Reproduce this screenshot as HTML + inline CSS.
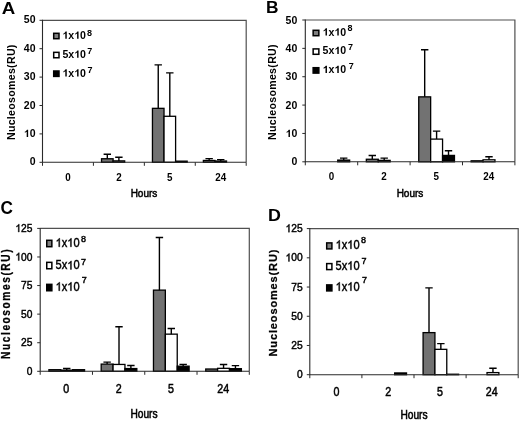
<!DOCTYPE html>
<html><head><meta charset="utf-8"><style>
html,body{margin:0;padding:0;background:#fff;}
svg{display:block;filter:blur(0.35px);}
text{font-family:"Liberation Sans", sans-serif;fill:#000;}
</style></head><body>
<svg width="520" height="421" viewBox="0 0 520 421">
<rect width="520" height="421" fill="#fff"/>
<path d="M42.5 20.3H246.2V162.3" fill="none" stroke="#505050" stroke-width="1.2"/>
<rect x="101.53" y="158.75" width="11.57" height="3.55" fill="#727272" stroke="#000" stroke-width="1.3"/>
<path d="M107.31 158.75V154.21M103.61 154.21H111.01" stroke="#000" stroke-width="1.4" fill="none"/>
<rect x="113.1" y="160.88" width="11.57" height="1.42" fill="#ffffff" stroke="#000" stroke-width="1.3"/>
<path d="M118.89 160.88V157.19M115.19 157.19H122.59" stroke="#000" stroke-width="1.4" fill="none"/>
<rect x="152.45" y="108.34" width="11.57" height="53.96" fill="#727272" stroke="#000" stroke-width="1.3"/>
<path d="M158.24 108.34V64.89M154.54 64.89H161.94" stroke="#000" stroke-width="1.4" fill="none"/>
<rect x="164.03" y="116.29" width="11.57" height="46.01" fill="#ffffff" stroke="#000" stroke-width="1.3"/>
<path d="M169.81 116.29V72.84M166.11 72.84H173.51" stroke="#000" stroke-width="1.4" fill="none"/>
<rect x="175.6" y="161.16" width="11.57" height="1.14" fill="#000000" stroke="#000" stroke-width="1.3"/>
<rect x="203.38" y="160.45" width="11.57" height="1.85" fill="#727272" stroke="#000" stroke-width="1.3"/>
<path d="M209.16 160.45V158.61M205.46 158.61H212.86" stroke="#000" stroke-width="1.4" fill="none"/>
<rect x="214.95" y="161.02" width="11.57" height="1.28" fill="#ffffff" stroke="#000" stroke-width="1.3"/>
<path d="M220.74 161.02V159.6M217.04 159.6H224.44" stroke="#000" stroke-width="1.4" fill="none"/>
<path d="M42.5 19.8V162.3H246.2" fill="none" stroke="#2a2a2a" stroke-width="1.1"/>
<path d="M39.5 162.3H42.5" stroke="#2a2a2a" stroke-width="1"/>
<path d="M39.5 133.9H42.5" stroke="#2a2a2a" stroke-width="1"/>
<path d="M39.5 105.5H42.5" stroke="#2a2a2a" stroke-width="1"/>
<path d="M39.5 77.1H42.5" stroke="#2a2a2a" stroke-width="1"/>
<path d="M39.5 48.7H42.5" stroke="#2a2a2a" stroke-width="1"/>
<path d="M39.5 20.3H42.5" stroke="#2a2a2a" stroke-width="1"/>
<path d="M42.5 162.3V165.8" stroke="#2a2a2a" stroke-width="1"/>
<path d="M93.42 162.3V165.8" stroke="#2a2a2a" stroke-width="1"/>
<path d="M144.35 162.3V165.8" stroke="#2a2a2a" stroke-width="1"/>
<path d="M195.27 162.3V165.8" stroke="#2a2a2a" stroke-width="1"/>
<path d="M246.2 162.3V165.8" stroke="#2a2a2a" stroke-width="1"/>
<text transform="translate(29.66 165.4)" font-size="10.5" font-weight="bold">0</text>
<path transform="translate(23.82 137) scale(0.00513 -0.00513)" d="M842 0H561V1013.7Q407 875.8 198 809.8V1053.9Q308 1088.3 437 1184.1Q566 1280.7 614 1409H842Z"/><text transform="translate(29.66 137)" font-size="10.5" font-weight="bold">0</text>
<text transform="translate(23.82 108.6)" font-size="10.5" font-weight="bold">20</text>
<text transform="translate(23.82 80.2)" font-size="10.5" font-weight="bold">30</text>
<text transform="translate(23.82 51.8)" font-size="10.5" font-weight="bold">40</text>
<text transform="translate(23.82 23.4)" font-size="10.5" font-weight="bold">50</text>
<text transform="translate(67.96 181.4) scale(0.91 1)" font-size="10.8" font-weight="bold" text-anchor="middle">0</text>
<text transform="translate(118.89 181.4) scale(0.91 1)" font-size="10.8" font-weight="bold" text-anchor="middle">2</text>
<text transform="translate(169.81 181.4) scale(0.91 1)" font-size="10.8" font-weight="bold" text-anchor="middle">5</text>
<text transform="translate(220.74 181.4) scale(0.91 1)" font-size="10.8" font-weight="bold" text-anchor="middle">24</text>
<text transform="translate(144 197.3) scale(0.93 1)" font-size="10.8" text-anchor="middle" stroke="#000" stroke-width="0.5">Hours</text>
<text transform="translate(15 92.2) rotate(-90)" font-size="10.6" font-weight="bold" text-anchor="middle" letter-spacing="0.3">Nucleosomes(RU)</text>
<text transform="translate(1.7 14.4) scale(1.1 1)" font-size="17" font-weight="bold">A</text>
<rect x="53.7" y="33.3" width="5.3" height="5.4" fill="#808080" stroke="#000" stroke-width="1.5"/>
<path transform="translate(62.4 38.85) scale(0.00518 -0.00518)" d="M842 0H561V1013.7Q407 875.8 198 809.8V1053.9Q308 1088.3 437 1184.1Q566 1280.7 614 1409H842Z"/><text transform="translate(68.3 38.85)" font-size="10.6" font-weight="bold">x</text><path transform="translate(74.19 38.85) scale(0.00518 -0.00518)" d="M842 0H561V1013.7Q407 875.8 198 809.8V1053.9Q308 1088.3 437 1184.1Q566 1280.7 614 1409H842Z"/><text transform="translate(80.09 38.85)" font-size="10.6" font-weight="bold">0</text>
<text transform="translate(87 35.8)" font-size="9.0" font-weight="bold">8</text>
<rect x="53.7" y="52.35" width="5.3" height="5.4" fill="#ffffff" stroke="#000" stroke-width="1.5"/>
<text transform="translate(62.4 57.85)" font-size="10.6" font-weight="bold">5x</text><path transform="translate(74.19 57.85) scale(0.00518 -0.00518)" d="M842 0H561V1013.7Q407 875.8 198 809.8V1053.9Q308 1088.3 437 1184.1Q566 1280.7 614 1409H842Z"/><text transform="translate(80.09 57.85)" font-size="10.6" font-weight="bold">0</text>
<text transform="translate(87.2 54.3)" font-size="9.0" font-weight="bold">7</text>
<rect x="53.7" y="71" width="5.3" height="5.4" fill="#000000" stroke="#000" stroke-width="1.5"/>
<path transform="translate(62.4 76.6) scale(0.00518 -0.00518)" d="M842 0H561V1013.7Q407 875.8 198 809.8V1053.9Q308 1088.3 437 1184.1Q566 1280.7 614 1409H842Z"/><text transform="translate(68.3 76.6)" font-size="10.6" font-weight="bold">x</text><path transform="translate(74.19 76.6) scale(0.00518 -0.00518)" d="M842 0H561V1013.7Q407 875.8 198 809.8V1053.9Q308 1088.3 437 1184.1Q566 1280.7 614 1409H842Z"/><text transform="translate(80.09 76.6)" font-size="10.6" font-weight="bold">0</text>
<text transform="translate(87.5 72.5)" font-size="9.0" font-weight="bold">7</text>
<path d="M305.3 20H514.9V161.8" fill="none" stroke="#505050" stroke-width="1.2"/>
<rect x="337.75" y="160.1" width="11.91" height="1.7" fill="#000000" stroke="#000" stroke-width="1.3"/>
<path d="M343.71 160.1V158.11M340.01 158.11H347.41" stroke="#000" stroke-width="1.4" fill="none"/>
<rect x="366.34" y="159.25" width="11.91" height="2.55" fill="#727272" stroke="#000" stroke-width="1.3"/>
<path d="M372.29 159.25V155.56M368.59 155.56H375.99" stroke="#000" stroke-width="1.4" fill="none"/>
<rect x="378.25" y="160.38" width="11.91" height="1.42" fill="#ffffff" stroke="#000" stroke-width="1.3"/>
<path d="M384.2 160.38V158.11M380.5 158.11H387.9" stroke="#000" stroke-width="1.4" fill="none"/>
<rect x="418.74" y="96.86" width="11.91" height="64.94" fill="#727272" stroke="#000" stroke-width="1.3"/>
<path d="M424.69 96.86V49.78M420.99 49.78H428.39" stroke="#000" stroke-width="1.4" fill="none"/>
<rect x="430.65" y="139.11" width="11.91" height="22.69" fill="#ffffff" stroke="#000" stroke-width="1.3"/>
<path d="M436.6 139.11V131.17M432.9 131.17H440.3" stroke="#000" stroke-width="1.4" fill="none"/>
<rect x="442.55" y="155.42" width="11.91" height="6.38" fill="#000000" stroke="#000" stroke-width="1.3"/>
<path d="M448.51 155.42V150.74M444.81 150.74H452.21" stroke="#000" stroke-width="1.4" fill="none"/>
<rect x="471.14" y="160.81" width="11.91" height="0.99" fill="#727272" stroke="#000" stroke-width="1.3"/>
<rect x="483.05" y="159.81" width="11.91" height="1.99" fill="#ffffff" stroke="#000" stroke-width="1.3"/>
<path d="M489 159.81V156.7M485.3 156.7H492.7" stroke="#000" stroke-width="1.4" fill="none"/>
<path d="M305.3 19.5V161.8H514.9" fill="none" stroke="#2a2a2a" stroke-width="1.1"/>
<path d="M302.3 161.8H305.3" stroke="#2a2a2a" stroke-width="1"/>
<path d="M302.3 133.44H305.3" stroke="#2a2a2a" stroke-width="1"/>
<path d="M302.3 105.08H305.3" stroke="#2a2a2a" stroke-width="1"/>
<path d="M302.3 76.72H305.3" stroke="#2a2a2a" stroke-width="1"/>
<path d="M302.3 48.36H305.3" stroke="#2a2a2a" stroke-width="1"/>
<path d="M302.3 20H305.3" stroke="#2a2a2a" stroke-width="1"/>
<path d="M305.3 161.8V165.3" stroke="#2a2a2a" stroke-width="1"/>
<path d="M357.7 161.8V165.3" stroke="#2a2a2a" stroke-width="1"/>
<path d="M410.1 161.8V165.3" stroke="#2a2a2a" stroke-width="1"/>
<path d="M462.5 161.8V165.3" stroke="#2a2a2a" stroke-width="1"/>
<path d="M514.9 161.8V165.3" stroke="#2a2a2a" stroke-width="1"/>
<text transform="translate(291.46 165.4)" font-size="10.5" font-weight="bold">0</text>
<path transform="translate(285.62 137.04) scale(0.00513 -0.00513)" d="M842 0H561V1013.7Q407 875.8 198 809.8V1053.9Q308 1088.3 437 1184.1Q566 1280.7 614 1409H842Z"/><text transform="translate(291.46 137.04)" font-size="10.5" font-weight="bold">0</text>
<text transform="translate(285.62 108.68)" font-size="10.5" font-weight="bold">20</text>
<text transform="translate(285.62 80.32)" font-size="10.5" font-weight="bold">30</text>
<text transform="translate(285.62 51.96)" font-size="10.5" font-weight="bold">40</text>
<text transform="translate(285.62 23.6)" font-size="10.5" font-weight="bold">50</text>
<text transform="translate(331.5 180.4) scale(0.91 1)" font-size="10.8" font-weight="bold" text-anchor="middle">0</text>
<text transform="translate(383.9 180.4) scale(0.91 1)" font-size="10.8" font-weight="bold" text-anchor="middle">2</text>
<text transform="translate(436.3 180.4) scale(0.91 1)" font-size="10.8" font-weight="bold" text-anchor="middle">5</text>
<text transform="translate(488.7 180.4) scale(0.91 1)" font-size="10.8" font-weight="bold" text-anchor="middle">24</text>
<text transform="translate(410 197.2) scale(0.93 1)" font-size="10.8" text-anchor="middle" stroke="#000" stroke-width="0.5">Hours</text>
<text transform="translate(276 92) rotate(-90)" font-size="10.6" font-weight="bold" text-anchor="middle" letter-spacing="0.3">Nucleosomes(RU)</text>
<text transform="translate(265.9 12.9) scale(1.05 1)" font-size="16.5" font-weight="bold">B</text>
<rect x="313.15" y="30.3" width="5.7" height="5.4" fill="#808080" stroke="#000" stroke-width="1.5"/>
<path transform="translate(322.6 35.6) scale(0.00518 -0.00518)" d="M842 0H561V1013.7Q407 875.8 198 809.8V1053.9Q308 1088.3 437 1184.1Q566 1280.7 614 1409H842Z"/><text transform="translate(328.5 35.6)" font-size="10.6" font-weight="bold">x</text><path transform="translate(334.39 35.6) scale(0.00518 -0.00518)" d="M842 0H561V1013.7Q407 875.8 198 809.8V1053.9Q308 1088.3 437 1184.1Q566 1280.7 614 1409H842Z"/><text transform="translate(340.29 35.6)" font-size="10.6" font-weight="bold">0</text>
<text transform="translate(347.6 30.6)" font-size="9.0" font-weight="bold">8</text>
<rect x="313.15" y="48.9" width="5.7" height="5.4" fill="#ffffff" stroke="#000" stroke-width="1.5"/>
<text transform="translate(322.6 54.1)" font-size="10.6" font-weight="bold">5x</text><path transform="translate(334.39 54.1) scale(0.00518 -0.00518)" d="M842 0H561V1013.7Q407 875.8 198 809.8V1053.9Q308 1088.3 437 1184.1Q566 1280.7 614 1409H842Z"/><text transform="translate(340.29 54.1)" font-size="10.6" font-weight="bold">0</text>
<text transform="translate(347.9 50.3)" font-size="9.0" font-weight="bold">7</text>
<rect x="313.15" y="67.7" width="5.7" height="5.4" fill="#000000" stroke="#000" stroke-width="1.5"/>
<path transform="translate(322.6 73) scale(0.00518 -0.00518)" d="M842 0H561V1013.7Q407 875.8 198 809.8V1053.9Q308 1088.3 437 1184.1Q566 1280.7 614 1409H842Z"/><text transform="translate(328.5 73)" font-size="10.6" font-weight="bold">x</text><path transform="translate(334.39 73) scale(0.00518 -0.00518)" d="M842 0H561V1013.7Q407 875.8 198 809.8V1053.9Q308 1088.3 437 1184.1Q566 1280.7 614 1409H842Z"/><text transform="translate(340.29 73)" font-size="10.6" font-weight="bold">0</text>
<text transform="translate(348.8 68.8)" font-size="9.0" font-weight="bold">7</text>
<path d="M40.2 228.4H249.3V371.3" fill="none" stroke="#505050" stroke-width="1.2"/>
<rect x="48.92" y="369.7" width="11.88" height="1.6" fill="#727272" stroke="#000" stroke-width="1.3"/>
<rect x="60.8" y="370.16" width="11.88" height="1.14" fill="#ffffff" stroke="#000" stroke-width="1.3"/>
<path d="M66.74 370.16V368.44M63.04 368.44H70.44" stroke="#000" stroke-width="1.4" fill="none"/>
<rect x="72.68" y="369.7" width="11.88" height="1.6" fill="#000000" stroke="#000" stroke-width="1.3"/>
<rect x="101.19" y="364.1" width="11.88" height="7.2" fill="#727272" stroke="#000" stroke-width="1.3"/>
<path d="M107.13 364.1V362.15M103.43 362.15H110.83" stroke="#000" stroke-width="1.4" fill="none"/>
<rect x="113.07" y="364.44" width="11.88" height="6.86" fill="#ffffff" stroke="#000" stroke-width="1.3"/>
<path d="M119.01 364.44V326.72M115.31 326.72H122.71" stroke="#000" stroke-width="1.4" fill="none"/>
<rect x="124.95" y="368.56" width="11.88" height="2.74" fill="#000000" stroke="#000" stroke-width="1.3"/>
<path d="M130.89 368.56V365.47M127.19 365.47H134.59" stroke="#000" stroke-width="1.4" fill="none"/>
<rect x="153.47" y="290.13" width="11.88" height="81.17" fill="#727272" stroke="#000" stroke-width="1.3"/>
<path d="M159.41 290.13V237.55M155.71 237.55H163.11" stroke="#000" stroke-width="1.4" fill="none"/>
<rect x="165.35" y="334.15" width="11.88" height="37.15" fill="#ffffff" stroke="#000" stroke-width="1.3"/>
<path d="M171.29 334.15V328.43M167.59 328.43H174.99" stroke="#000" stroke-width="1.4" fill="none"/>
<rect x="177.23" y="366.16" width="11.88" height="5.14" fill="#000000" stroke="#000" stroke-width="1.3"/>
<path d="M183.17 366.16V364.33M179.47 364.33H186.87" stroke="#000" stroke-width="1.4" fill="none"/>
<rect x="205.74" y="369.01" width="11.88" height="2.29" fill="#727272" stroke="#000" stroke-width="1.3"/>
<rect x="217.62" y="368.33" width="11.88" height="2.97" fill="#ffffff" stroke="#000" stroke-width="1.3"/>
<path d="M223.56 368.33V364.44M219.86 364.44H227.26" stroke="#000" stroke-width="1.4" fill="none"/>
<rect x="229.5" y="368.67" width="11.88" height="2.63" fill="#000000" stroke="#000" stroke-width="1.3"/>
<path d="M235.44 368.67V365.58M231.74 365.58H239.14" stroke="#000" stroke-width="1.4" fill="none"/>
<path d="M40.2 227.9V371.3H249.3" fill="none" stroke="#2a2a2a" stroke-width="1.1"/>
<path d="M37.2 371.3H40.2" stroke="#2a2a2a" stroke-width="1"/>
<path d="M37.2 342.72H40.2" stroke="#2a2a2a" stroke-width="1"/>
<path d="M37.2 314.14H40.2" stroke="#2a2a2a" stroke-width="1"/>
<path d="M37.2 285.56H40.2" stroke="#2a2a2a" stroke-width="1"/>
<path d="M37.2 256.98H40.2" stroke="#2a2a2a" stroke-width="1"/>
<path d="M37.2 228.4H40.2" stroke="#2a2a2a" stroke-width="1"/>
<path d="M40.2 371.3V374.8" stroke="#2a2a2a" stroke-width="1"/>
<path d="M92.48 371.3V374.8" stroke="#2a2a2a" stroke-width="1"/>
<path d="M144.75 371.3V374.8" stroke="#2a2a2a" stroke-width="1"/>
<path d="M197.03 371.3V374.8" stroke="#2a2a2a" stroke-width="1"/>
<path d="M249.3 371.3V374.8" stroke="#2a2a2a" stroke-width="1"/>
<text transform="translate(26.79 374.9) scale(0.9 1)" font-size="11.4" stroke="#000" stroke-width="0.45">0</text>
<text transform="translate(21.09 346.32) scale(0.9 1)" font-size="11.4" stroke="#000" stroke-width="0.45">25</text>
<text transform="translate(21.09 317.74) scale(0.9 1)" font-size="11.4" stroke="#000" stroke-width="0.45">50</text>
<text transform="translate(21.09 289.16) scale(0.9 1)" font-size="11.4" stroke="#000" stroke-width="0.45">75</text>
<path transform="translate(15.38 260.58) scale(0.00501 -0.00557)" d="M763 0H583V1097.9Q518 1038.6 412.5 979.2Q307 919.9 223 890.2V1056.8Q374 1124.7 487 1221.4Q600 1318.1 647 1409H763Z" stroke="#000" stroke-width="0.45" vector-effect="non-scaling-stroke"/><text transform="translate(21.09 260.58) scale(0.9 1)" font-size="11.4" stroke="#000" stroke-width="0.45">00</text>
<path transform="translate(15.38 232) scale(0.00501 -0.00557)" d="M763 0H583V1097.9Q518 1038.6 412.5 979.2Q307 919.9 223 890.2V1056.8Q374 1124.7 487 1221.4Q600 1318.1 647 1409H763Z" stroke="#000" stroke-width="0.45" vector-effect="non-scaling-stroke"/><text transform="translate(21.09 232) scale(0.9 1)" font-size="11.4" stroke="#000" stroke-width="0.45">25</text>
<text transform="translate(66.34 393.3) scale(0.85 1)" font-size="12.6" text-anchor="middle" stroke="#000" stroke-width="0.5">0</text>
<text transform="translate(118.61 393.3) scale(0.85 1)" font-size="12.6" text-anchor="middle" stroke="#000" stroke-width="0.5">2</text>
<text transform="translate(170.89 393.3) scale(0.85 1)" font-size="12.6" text-anchor="middle" stroke="#000" stroke-width="0.5">5</text>
<text transform="translate(223.16 393.3) scale(0.85 1)" font-size="12.6" text-anchor="middle" stroke="#000" stroke-width="0.5">24</text>
<text transform="translate(144 418) scale(0.85 1)" font-size="12" text-anchor="middle" stroke="#000" stroke-width="0.55">Hours</text>
<text transform="translate(10 303.4) rotate(-90) scale(0.85 1)" font-size="12.0" font-weight="bold" text-anchor="middle" letter-spacing="1.82" stroke="#000" stroke-width="0.25">Nucleosomes(RU)</text>
<text transform="translate(0.5 214.1) scale(0.98 1)" font-size="17.6" font-weight="bold">C</text>
<rect x="46.75" y="240.3" width="5.1" height="6.4" fill="#808080" stroke="#000" stroke-width="1.5"/>
<path transform="translate(55.6 246.8) scale(0.00541 -0.00601)" d="M763 0H583V1097.9Q518 1038.6 412.5 979.2Q307 919.9 223 890.2V1056.8Q374 1124.7 487 1221.4Q600 1318.1 647 1409H763Z" stroke="#000" stroke-width="0.45" vector-effect="non-scaling-stroke"/><text transform="translate(61.76 246.8) scale(0.9 1)" font-size="12.3" stroke="#000" stroke-width="0.45">x</text><path transform="translate(67.29 246.8) scale(0.00541 -0.00601)" d="M763 0H583V1097.9Q518 1038.6 412.5 979.2Q307 919.9 223 890.2V1056.8Q374 1124.7 487 1221.4Q600 1318.1 647 1409H763Z" stroke="#000" stroke-width="0.45" vector-effect="non-scaling-stroke"/><text transform="translate(73.45 246.8) scale(0.9 1)" font-size="12.3" stroke="#000" stroke-width="0.45">0</text>
<text transform="translate(80.9 241.5)" font-size="9.0" stroke="#000" stroke-width="0.45">8</text>
<rect x="46.75" y="262.35" width="5.1" height="6.4" fill="#ffffff" stroke="#000" stroke-width="1.5"/>
<text transform="translate(55.6 269.4) scale(0.9 1)" font-size="12.3" stroke="#000" stroke-width="0.45">5x</text><path transform="translate(67.29 269.4) scale(0.00541 -0.00601)" d="M763 0H583V1097.9Q518 1038.6 412.5 979.2Q307 919.9 223 890.2V1056.8Q374 1124.7 487 1221.4Q600 1318.1 647 1409H763Z" stroke="#000" stroke-width="0.45" vector-effect="non-scaling-stroke"/><text transform="translate(73.45 269.4) scale(0.9 1)" font-size="12.3" stroke="#000" stroke-width="0.45">0</text>
<text transform="translate(81.1 264.7)" font-size="9.0" stroke="#000" stroke-width="0.45">7</text>
<rect x="46.75" y="284.35" width="5.1" height="6.4" fill="#000000" stroke="#000" stroke-width="1.5"/>
<path transform="translate(55.6 290.7) scale(0.00541 -0.00601)" d="M763 0H583V1097.9Q518 1038.6 412.5 979.2Q307 919.9 223 890.2V1056.8Q374 1124.7 487 1221.4Q600 1318.1 647 1409H763Z" stroke="#000" stroke-width="0.45" vector-effect="non-scaling-stroke"/><text transform="translate(61.76 290.7) scale(0.9 1)" font-size="12.3" stroke="#000" stroke-width="0.45">x</text><path transform="translate(67.29 290.7) scale(0.00541 -0.00601)" d="M763 0H583V1097.9Q518 1038.6 412.5 979.2Q307 919.9 223 890.2V1056.8Q374 1124.7 487 1221.4Q600 1318.1 647 1409H763Z" stroke="#000" stroke-width="0.45" vector-effect="non-scaling-stroke"/><text transform="translate(73.45 290.7) scale(0.9 1)" font-size="12.3" stroke="#000" stroke-width="0.45">0</text>
<text transform="translate(81.8 283.1)" font-size="9.0" stroke="#000" stroke-width="0.45">7</text>
<path d="M309.8 228.6H518.2V374.7" fill="none" stroke="#505050" stroke-width="1.2"/>
<rect x="394.67" y="372.95" width="11.84" height="1.75" fill="#000000" stroke="#000" stroke-width="1.3"/>
<rect x="423.09" y="332.62" width="11.84" height="42.08" fill="#727272" stroke="#000" stroke-width="1.3"/>
<path d="M429.01 332.62V287.86M425.31 287.86H432.71" stroke="#000" stroke-width="1.4" fill="none"/>
<rect x="434.93" y="349.34" width="11.84" height="25.36" fill="#ffffff" stroke="#000" stroke-width="1.3"/>
<path d="M440.85 349.34V343.61M437.15 343.61H444.55" stroke="#000" stroke-width="1.4" fill="none"/>
<rect x="446.77" y="374.23" width="11.84" height="0.47" fill="#000000" stroke="#000" stroke-width="1.3"/>
<rect x="487.03" y="372.6" width="11.84" height="2.1" fill="#ffffff" stroke="#000" stroke-width="1.3"/>
<path d="M492.95 372.6V368.27M489.25 368.27H496.65" stroke="#000" stroke-width="1.4" fill="none"/>
<path d="M309.8 228.1V374.7H518.2" fill="none" stroke="#2a2a2a" stroke-width="1.1"/>
<path d="M306.8 374.7H309.8" stroke="#2a2a2a" stroke-width="1"/>
<path d="M306.8 345.48H309.8" stroke="#2a2a2a" stroke-width="1"/>
<path d="M306.8 316.26H309.8" stroke="#2a2a2a" stroke-width="1"/>
<path d="M306.8 287.04H309.8" stroke="#2a2a2a" stroke-width="1"/>
<path d="M306.8 257.82H309.8" stroke="#2a2a2a" stroke-width="1"/>
<path d="M306.8 228.6H309.8" stroke="#2a2a2a" stroke-width="1"/>
<path d="M309.8 374.7V378.2" stroke="#2a2a2a" stroke-width="1"/>
<path d="M361.9 374.7V378.2" stroke="#2a2a2a" stroke-width="1"/>
<path d="M414 374.7V378.2" stroke="#2a2a2a" stroke-width="1"/>
<path d="M466.1 374.7V378.2" stroke="#2a2a2a" stroke-width="1"/>
<path d="M518.2 374.7V378.2" stroke="#2a2a2a" stroke-width="1"/>
<text transform="translate(296.99 378.3) scale(0.9 1)" font-size="11.4" stroke="#000" stroke-width="0.45">0</text>
<text transform="translate(291.29 349.08) scale(0.9 1)" font-size="11.4" stroke="#000" stroke-width="0.45">25</text>
<text transform="translate(291.29 319.86) scale(0.9 1)" font-size="11.4" stroke="#000" stroke-width="0.45">50</text>
<text transform="translate(291.29 290.64) scale(0.9 1)" font-size="11.4" stroke="#000" stroke-width="0.45">75</text>
<path transform="translate(285.58 261.42) scale(0.00501 -0.00557)" d="M763 0H583V1097.9Q518 1038.6 412.5 979.2Q307 919.9 223 890.2V1056.8Q374 1124.7 487 1221.4Q600 1318.1 647 1409H763Z" stroke="#000" stroke-width="0.45" vector-effect="non-scaling-stroke"/><text transform="translate(291.29 261.42) scale(0.9 1)" font-size="11.4" stroke="#000" stroke-width="0.45">00</text>
<path transform="translate(285.58 232.2) scale(0.00501 -0.00557)" d="M763 0H583V1097.9Q518 1038.6 412.5 979.2Q307 919.9 223 890.2V1056.8Q374 1124.7 487 1221.4Q600 1318.1 647 1409H763Z" stroke="#000" stroke-width="0.45" vector-effect="non-scaling-stroke"/><text transform="translate(291.29 232.2) scale(0.9 1)" font-size="11.4" stroke="#000" stroke-width="0.45">25</text>
<text transform="translate(336.45 395.6) scale(0.85 1)" font-size="12.6" text-anchor="middle" stroke="#000" stroke-width="0.5">0</text>
<text transform="translate(388.2 395.6) scale(0.85 1)" font-size="12.6" text-anchor="middle" stroke="#000" stroke-width="0.5">2</text>
<text transform="translate(439.9 395.6) scale(0.85 1)" font-size="12.6" text-anchor="middle" stroke="#000" stroke-width="0.5">5</text>
<text transform="translate(491.65 395.6) scale(0.85 1)" font-size="12.6" text-anchor="middle" stroke="#000" stroke-width="0.5">24</text>
<text transform="translate(414 418.6) scale(0.85 1)" font-size="12" text-anchor="middle" stroke="#000" stroke-width="0.55">Hours</text>
<text transform="translate(276.9 302.6) rotate(-90) scale(0.93 1)" font-size="11.8" font-weight="bold" text-anchor="middle" letter-spacing="0.96" stroke="#000" stroke-width="0.25">Nucleosomes(RU)</text>
<text transform="translate(267.9 220.7) scale(1.05 1)" font-size="17" font-weight="bold">D</text>
<rect x="326.7" y="242.9" width="5.2" height="6" fill="#808080" stroke="#000" stroke-width="1.5"/>
<path transform="translate(335.6 248.8) scale(0.00541 -0.00601)" d="M763 0H583V1097.9Q518 1038.6 412.5 979.2Q307 919.9 223 890.2V1056.8Q374 1124.7 487 1221.4Q600 1318.1 647 1409H763Z" stroke="#000" stroke-width="0.45" vector-effect="non-scaling-stroke"/><text transform="translate(341.76 248.8) scale(0.9 1)" font-size="12.3" stroke="#000" stroke-width="0.45">x</text><path transform="translate(347.29 248.8) scale(0.00541 -0.00601)" d="M763 0H583V1097.9Q518 1038.6 412.5 979.2Q307 919.9 223 890.2V1056.8Q374 1124.7 487 1221.4Q600 1318.1 647 1409H763Z" stroke="#000" stroke-width="0.45" vector-effect="non-scaling-stroke"/><text transform="translate(353.45 248.8) scale(0.9 1)" font-size="12.3" stroke="#000" stroke-width="0.45">0</text>
<text transform="translate(361.1 242.9)" font-size="9.0" stroke="#000" stroke-width="0.45">8</text>
<rect x="326.7" y="263.6" width="5.2" height="6" fill="#ffffff" stroke="#000" stroke-width="1.5"/>
<text transform="translate(335.6 269.8) scale(0.9 1)" font-size="12.3" stroke="#000" stroke-width="0.45">5x</text><path transform="translate(347.29 269.8) scale(0.00541 -0.00601)" d="M763 0H583V1097.9Q518 1038.6 412.5 979.2Q307 919.9 223 890.2V1056.8Q374 1124.7 487 1221.4Q600 1318.1 647 1409H763Z" stroke="#000" stroke-width="0.45" vector-effect="non-scaling-stroke"/><text transform="translate(353.45 269.8) scale(0.9 1)" font-size="12.3" stroke="#000" stroke-width="0.45">0</text>
<text transform="translate(361.5 263.9)" font-size="9.0" stroke="#000" stroke-width="0.45">7</text>
<rect x="326.7" y="284.9" width="5.2" height="6" fill="#000000" stroke="#000" stroke-width="1.5"/>
<path transform="translate(335.6 290.7) scale(0.00541 -0.00601)" d="M763 0H583V1097.9Q518 1038.6 412.5 979.2Q307 919.9 223 890.2V1056.8Q374 1124.7 487 1221.4Q600 1318.1 647 1409H763Z" stroke="#000" stroke-width="0.45" vector-effect="non-scaling-stroke"/><text transform="translate(341.76 290.7) scale(0.9 1)" font-size="12.3" stroke="#000" stroke-width="0.45">x</text><path transform="translate(347.29 290.7) scale(0.00541 -0.00601)" d="M763 0H583V1097.9Q518 1038.6 412.5 979.2Q307 919.9 223 890.2V1056.8Q374 1124.7 487 1221.4Q600 1318.1 647 1409H763Z" stroke="#000" stroke-width="0.45" vector-effect="non-scaling-stroke"/><text transform="translate(353.45 290.7) scale(0.9 1)" font-size="12.3" stroke="#000" stroke-width="0.45">0</text>
<text transform="translate(362.1 282.7)" font-size="9.0" stroke="#000" stroke-width="0.45">7</text>
</svg>
</body></html>
